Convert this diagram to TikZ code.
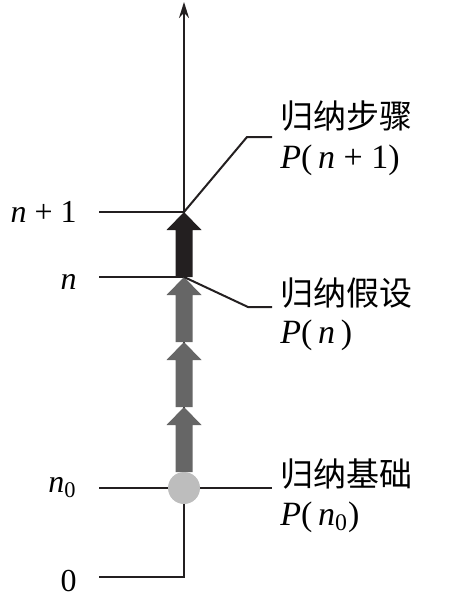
\documentclass[tikz,border=0pt]{standalone}
\usepackage{fontspec}
\setmainfont{Liberation Serif}
\newfontfamily\cjk{Noto Sans CJK SC}
\usetikzlibrary{arrows.meta}

\definecolor{inkdark}{HTML}{231F20}
\definecolor{arrowgray}{HTML}{666666}
\definecolor{dotgray}{HTML}{BDBDBD}

\begin{document}
\begin{tikzpicture}[
  x=0.5pt, y=-0.5pt,
  line/.style={line width=1pt, draw=inkdark},
  basedot/.style={circle, fill=dotgray, inner sep=0pt, minimum size=16pt},
  tick/.style={font=\fontsize{16}{19}\selectfont, anchor=base east, inner sep=0pt},
  lab/.style={font=\fontsize{17}{20}\selectfont, anchor=base west, inner sep=0pt},
  cjklab/.style={font=\cjk\fontsize{16.5}{19}\selectfont, anchor=base west, inner sep=0pt}
]
\useasboundingbox (0,0) rectangle (465,601);

% axis and level lines
\coordinate (zeroL) at (99,577);
\coordinate (corner) at (184,577);
\coordinate (top) at (184,2);
\coordinate (nnL) at (99,212);
\coordinate (nnR) at (184,212);
\coordinate (nL) at (99,277);
\coordinate (nR) at (184,277);
\coordinate (noL) at (99,488);
\coordinate (noR) at (272,488);

\draw[line, -{Stealth[length=8pt, width=5pt]}] (zeroL) -- (corner) -- (top);
\draw[line] (nnL) -- (nnR);
\draw[line] (nL) -- (nR);
\draw[line] (noL) -- (noR);

% block arrows, one step each
\foreach \tipy/\col in {212/inkdark, 277/arrowgray, 342/arrowgray, 407/arrowgray}
  \fill[\col] (184,\tipy) -- ++(17.5,18) -- ++(-9,0) -- ++(0,47) -- ++(-17,0)
    -- ++(0,-47) -- ++(-9,0) -- cycle;

\node[basedot] (base) at (184,488) {};

% leaders
\coordinate (stepTip) at (184,212);
\coordinate (hypTip) at (184,277);
\coordinate (stepK) at (247,137);
\coordinate (stepE) at (272,137);
\coordinate (hypK) at (248,307);
\coordinate (hypE) at (272,307);
\draw[line] (stepTip) -- (stepK) -- (stepE);
\draw[line] (hypTip) -- (hypK) -- (hypE);

% left labels
\node[tick] (tnn) at (77,222) {\textit{n} + 1};
\node[tick] (tn) at (77,289) {\textit{n}};
\node[tick] (tno) at (77,492) {\textit{n}\textsubscript{0}};
\node[tick] (tz) at (77,591) {0};

% right labels
\node[cjklab] (stepT) at (280,128) {归纳步骤};
\node[lab] (stepP) at (280,168) {\textit{P}(\,\textit{n} + 1)};
\node[cjklab] (hypT) at (280,305) {归纳假设};
\node[lab] (hypP) at (280,343) {\textit{P}(\,\textit{n}\,)};
\node[cjklab] (baseT) at (280,486) {归纳基础};
\node[lab] (baseP) at (280,525) {\textit{P}(\,\textit{n}\textsubscript{0})};

\end{tikzpicture}
\end{document}
